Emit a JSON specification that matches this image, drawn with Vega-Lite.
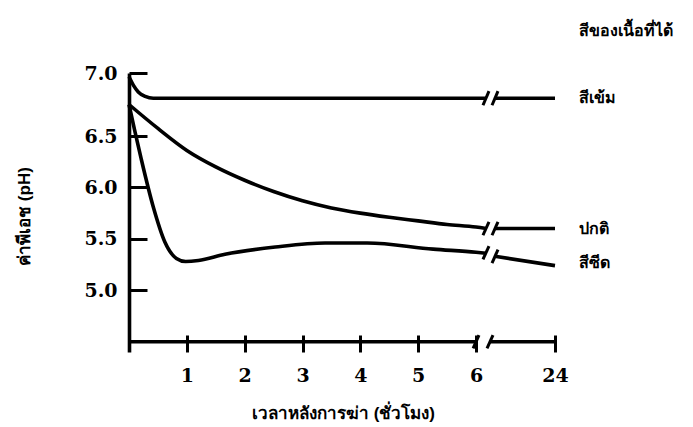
{
  "$schema": "https://vega.github.io/schema/vega-lite/v6.json",
  "width": 426,
  "height": 279,
  "autosize": {"type": "none"},
  "padding": {"left": 129, "top": 73, "right": 138, "bottom": 75},
  "background": "white",
  "config": {"view": {"stroke": null}},
  "datasets": {
    "curves": [
      {"s": "dark", "seg": "dark1", "h": 0, "ph": 6.97},
      {"s": "dark", "seg": "dark1", "h": 0.08, "ph": 6.9},
      {"s": "dark", "seg": "dark1", "h": 0.16, "ph": 6.85},
      {"s": "dark", "seg": "dark1", "h": 0.28, "ph": 6.815},
      {"s": "dark", "seg": "dark1", "h": 0.42, "ph": 6.8},
      {"s": "dark", "seg": "dark1", "h": 1, "ph": 6.8},
      {"s": "dark", "seg": "dark1", "h": 2, "ph": 6.8},
      {"s": "dark", "seg": "dark1", "h": 4, "ph": 6.8},
      {"s": "dark", "seg": "dark1", "h": 6, "ph": 6.8},
      {"s": "dark", "seg": "dark1", "h": 8.3, "ph": 6.8},
      {"s": "dark", "seg": "dark2", "h": 10.3, "ph": 6.8},
      {"s": "dark", "seg": "dark2", "h": 24, "ph": 6.8},
      {"s": "normal", "seg": "normal1", "h": 0, "ph": 6.75},
      {"s": "normal", "seg": "normal1", "h": 0.5, "ph": 6.56},
      {"s": "normal", "seg": "normal1", "h": 1, "ph": 6.36},
      {"s": "normal", "seg": "normal1", "h": 1.5, "ph": 6.2},
      {"s": "normal", "seg": "normal1", "h": 2, "ph": 6.07},
      {"s": "normal", "seg": "normal1", "h": 2.5, "ph": 5.96},
      {"s": "normal", "seg": "normal1", "h": 3, "ph": 5.87},
      {"s": "normal", "seg": "normal1", "h": 3.5, "ph": 5.8},
      {"s": "normal", "seg": "normal1", "h": 4, "ph": 5.75},
      {"s": "normal", "seg": "normal1", "h": 4.5, "ph": 5.71},
      {"s": "normal", "seg": "normal1", "h": 5, "ph": 5.675},
      {"s": "normal", "seg": "normal1", "h": 5.5, "ph": 5.64},
      {"s": "normal", "seg": "normal1", "h": 6, "ph": 5.615},
      {"s": "normal", "seg": "normal1", "h": 8.3, "ph": 5.6},
      {"s": "normal", "seg": "normal2", "h": 10.3, "ph": 5.6},
      {"s": "normal", "seg": "normal2", "h": 24, "ph": 5.6},
      {"s": "pale", "seg": "pale1", "h": 0, "ph": 6.75},
      {"s": "pale", "seg": "pale1", "h": 0.1, "ph": 6.54},
      {"s": "pale", "seg": "pale1", "h": 0.21, "ph": 6.28},
      {"s": "pale", "seg": "pale1", "h": 0.42, "ph": 5.81},
      {"s": "pale", "seg": "pale1", "h": 0.62, "ph": 5.47},
      {"s": "pale", "seg": "pale1", "h": 0.82, "ph": 5.31},
      {"s": "pale", "seg": "pale1", "h": 0.98, "ph": 5.28},
      {"s": "pale", "seg": "pale1", "h": 1.2, "ph": 5.29},
      {"s": "pale", "seg": "pale1", "h": 1.66, "ph": 5.35},
      {"s": "pale", "seg": "pale1", "h": 2.53, "ph": 5.42},
      {"s": "pale", "seg": "pale1", "h": 3.39, "ph": 5.46},
      {"s": "pale", "seg": "pale1", "h": 4.12, "ph": 5.46},
      {"s": "pale", "seg": "pale1", "h": 5.26, "ph": 5.4},
      {"s": "pale", "seg": "pale1", "h": 6, "ph": 5.37},
      {"s": "pale", "seg": "pale1", "h": 8.3, "ph": 5.36},
      {"s": "pale", "seg": "pale2", "h": 10.3, "ph": 5.33},
      {"s": "pale", "seg": "pale2", "h": 24, "ph": 5.24}
    ],
    "slashes": [
      {"h1": 7.59, "h2": 8.96, "p1": 6.744, "p2": 6.856},
      {"h1": 9.65, "h2": 11.01, "p1": 6.744, "p2": 6.856},
      {"h1": 7.59, "h2": 8.96, "p1": 5.535, "p2": 5.665},
      {"h1": 9.65, "h2": 11.01, "p1": 5.535, "p2": 5.665},
      {"h1": 7.59, "h2": 8.96, "p1": 5.3, "p2": 5.43},
      {"h1": 9.65, "h2": 11.01, "p1": 5.265, "p2": 5.395},
      {"h1": 5.95, "h2": 6.68, "p1": 4.435, "p2": 4.565},
      {"h1": 8.51, "h2": 9.87, "p1": 4.435, "p2": 4.565}
    ],
    "axisSegs": [
      {"h1": 0, "h2": 6, "p": 4.5},
      {"h1": 9.19, "h2": 24, "p": 4.5}
    ],
    "labels": [
      {"h": 24, "ph": 6.8, "t": "สีเข้ม", "sz": 16},
      {"h": 24, "ph": 5.6, "t": "ปกติ", "sz": 16},
      {"h": 24, "ph": 5.27, "t": "สีซีด", "sz": 16},
      {"h": 24, "ph": 7.33, "t": "สีของเนื้อที่ได้", "sz": 16}
    ]
  },
  "layer": [
    {
      "data": {"name": "curves"},
      "mark": {"type": "line", "color": "black", "strokeWidth": 3.6, "interpolate": "monotone"},
      "encoding": {
        "x": {
          "field": "h", "type": "quantitative",
          "scale": {"domain": [0, 6, 24], "range": [0, 347, 426]},
          "axis": {
            "values": [1, 2, 3, 4, 5, 6, 24],
            "domain": false, "grid": false,
            "tickSize": -17, "tickWidth": 3, "tickColor": "black",
            "labelFont": "DejaVu Serif", "labelFontWeight": "bold", "labelFontSize": 19,
            "labelColor": "black", "labelPadding": 31, "labelFlush": false,
            "title": "เวลาหลังการฆ่า (ชั่วโมง)",
            "titleFontSize": 17, "titleFontWeight": "bold", "titleColor": "black",
            "titleX": 214, "titleY": 61, "titleBaseline": "middle", "titleAlign": "center"
          }
        },
        "y": {
          "field": "ph", "type": "quantitative",
          "scale": {"domain": [4.5, 6.5, 7.0], "range": [279, 63, 0]},
          "axis": {
            "values": [5.0, 5.5, 6.0, 6.5, 7.0], "format": ".1f",
            "domain": true, "domainColor": "black", "domainWidth": 3.6, "grid": false,
            "tickSize": -18, "tickWidth": 3, "tickColor": "black",
            "labelFont": "DejaVu Serif", "labelFontWeight": "bold", "labelFontSize": 19,
            "labelColor": "black", "labelPadding": 30, "labelFlush": false,
            "title": "ค่าพีเอช (pH)",
            "titleFontSize": 17, "titleFontWeight": "bold", "titleColor": "black",
            "titleX": -105, "titleY": 143, "titleAngle": -90,
            "titleBaseline": "middle", "titleAlign": "center"
          }
        },
        "detail": {"field": "seg", "type": "nominal"}
      }
    },
    {
      "data": {"name": "axisSegs"},
      "mark": {"type": "rule", "color": "black", "strokeWidth": 3.6},
      "encoding": {
        "x": {"field": "h1", "type": "quantitative"},
        "x2": {"field": "h2"},
        "y": {"field": "p", "type": "quantitative"}
      }
    },
    {
      "data": {"name": "slashes"},
      "mark": {"type": "rule", "color": "black", "strokeWidth": 3},
      "encoding": {
        "x": {"field": "h1", "type": "quantitative"},
        "x2": {"field": "h2"},
        "y": {"field": "p1", "type": "quantitative"},
        "y2": {"field": "p2"}
      }
    },
    {
      "data": {"name": "labels"},
      "mark": {"type": "text", "align": "left", "baseline": "middle", "dx": 24, "fontSize": 16, "fontWeight": "bold", "color": "black"},
      "encoding": {
        "x": {"field": "h", "type": "quantitative"},
        "y": {"field": "ph", "type": "quantitative"},
        "text": {"field": "t"}
      }
    }
  ]
}
